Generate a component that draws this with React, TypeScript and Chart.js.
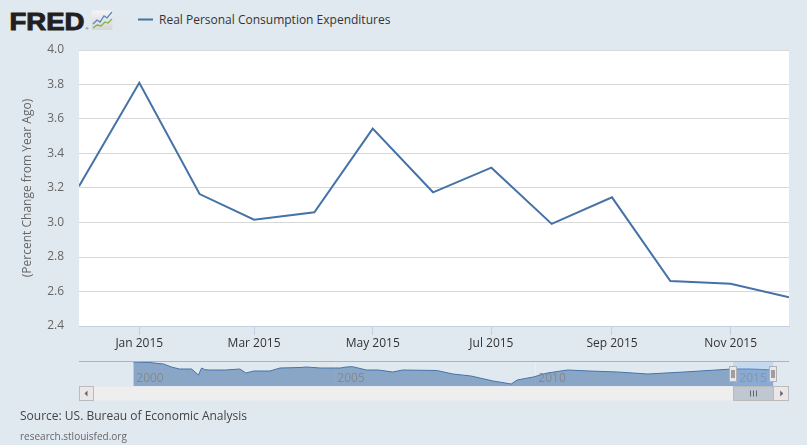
import React, { useEffect, useRef } from "react";
import { Chart, registerables } from "chart.js";

Chart.register(...registerables);

// ---- data ----
const obsDates = [
  "2014-12-01", "2015-01-01", "2015-02-01", "2015-03-01", "2015-04-01", "2015-05-01", "2015-06-01",
  "2015-07-01", "2015-08-01", "2015-09-01", "2015-10-01", "2015-11-01", "2015-12-01",
];
const pceValues = [3.21, 3.81, 3.165, 3.016, 3.059, 3.544, 3.175, 3.318, 2.992, 3.146, 2.661, 2.645, 2.566];
const xTickDates = ["2015-01-01", "2015-03-01", "2015-05-01", "2015-07-01", "2015-09-01", "2015-11-01"];
const xTickLabels = ["Jan 2015", "Mar 2015", "May 2015", "Jul 2015", "Sep 2015", "Nov 2015"];
const yTickValues = [2.4, 2.6, 2.8, 3.0, 3.2, 3.4, 3.6, 3.8, 4.0];

const navYears = [
  2000.0, 2000.4, 2000.75, 2000.95, 2001.15, 2001.45, 2001.62, 2001.7, 2001.78, 2001.9, 2002.3, 2002.65,
  2002.8, 2003.0, 2003.4, 2003.65, 2004.15, 2004.3, 2004.65, 2005.15, 2005.3, 2005.45, 2005.8, 2006.1,
  2006.45, 2006.7, 2007.55, 2007.95, 2008.4, 2008.95, 2009.4, 2009.55, 2009.95, 2010.3, 2010.8, 2011.35,
  2012.05, 2012.8, 2013.7, 2014.5, 2014.9, 2015.35, 2015.92,
];
const navValues = [
  5.2, 5.05, 4.6, 3.7, 3.1, 3.1, 1.3, 3.4, 2.9, 2.8, 2.8, 3.1, 1.9, 2.5, 2.5, 3.4, 3.55, 3.7, 3.4, 3.4, 3.7,
  3.8, 2.8, 2.8, 2.2, 2.8, 2.65, 1.6, 1.0, -0.5, -1.4, -0.2, 0.7, 1.9, 2.8, 2.5, 2.2, 1.6, 2.2, 2.8, 3.1, 3.1,
  2.8,
];
const navYearLabels = [2000, 2005, 2010, 2015];
const navSelStart = 2014.92;
const navSelEnd = 2015.92;

const seriesName = "Real Personal Consumption Expenditures";
const yAxisTitle = "(Percent Change from Year Ago)";
const sourceText = "Source: US. Bureau of Economic Analysis";
const siteText = "research.stlouisfed.org";

const FONT = "'Open Sans', sans-serif";
const LINE = "#4572a7";
const BG = "#e1e9f0";

const plotBg = {
  id: "plotBg",
  beforeDraw(chart: any) {
    const { ctx, chartArea: a } = chart;
    ctx.save();
    ctx.fillStyle = "#ffffff";
    ctx.fillRect(a.left, a.top, a.right - a.left, a.bottom - a.top);
    ctx.restore();
  },
};

const navPlugin = {
  id: "navPlugin",
  beforeDatasetsDraw(chart: any) {
    const { ctx, chartArea: a, scales } = chart;
    ctx.save();
    ctx.strokeStyle = "#eeeeee";
    ctx.lineWidth = 1;
    navYearLabels.forEach((yr) => {
      const x = Math.round(scales.x.getPixelForValue(yr)) + 0.5;
      ctx.beginPath();
      ctx.moveTo(x, a.top);
      ctx.lineTo(x, a.bottom);
      ctx.stroke();
    });
    ctx.restore();
  },
  afterDatasetsDraw(chart: any) {
    const { ctx, chartArea: a, scales } = chart;
    const sx = scales.x;
    ctx.save();
    // year labels
    ctx.fillStyle = "#888888";
    ctx.font = `12px ${FONT}`;
    ctx.textBaseline = "alphabetic";
    ctx.textAlign = "left";
    navYearLabels.forEach((yr) => {
      const x = sx.getPixelForValue(yr);
      ctx.fillText(String(yr), x + 3, a.bottom - 4.5);
    });
    // top outline
    ctx.strokeStyle = "#b2b1b6";
    ctx.lineWidth = 1;
    ctx.beginPath();
    ctx.moveTo(a.left, a.top + 0.5);
    ctx.lineTo(a.right, a.top + 0.5);
    ctx.stroke();
    // mask
    const x1 = sx.getPixelForValue(navSelStart);
    const x2 = sx.getPixelForValue(navSelEnd);
    ctx.fillStyle = "rgba(128,179,236,0.3)";
    ctx.fillRect(x1, a.top + 1, x2 - x1, a.bottom - a.top - 1);
    // handles
    [x1, x2].forEach((cx) => {
      const hx = Math.round(cx) - 3.5;
      ctx.fillStyle = "#ebe7e8";
      ctx.strokeStyle = "#b2b1b6";
      ctx.fillRect(hx, a.top + 5.5, 7, 15);
      ctx.strokeRect(hx, a.top + 5.5, 7, 15);
      ctx.strokeStyle = "#555555";
      ctx.beginPath();
      ctx.moveTo(hx + 2.5, a.top + 9);
      ctx.lineTo(hx + 2.5, a.top + 17);
      ctx.moveTo(hx + 4.5, a.top + 9);
      ctx.lineTo(hx + 4.5, a.top + 17);
      ctx.stroke();
    });
    // scrollbar
    const sTop = a.bottom + 0.5;
    const sH = 14;
    ctx.fillStyle = "#eeeeee";
    ctx.fillRect(a.left, sTop, a.right - a.left, sH);
    // left button
    const bw = 14;
    ctx.fillStyle = "#ebe7e8";
    ctx.strokeStyle = "#bbbbbb";
    ctx.fillRect(a.left + 0.5, sTop, bw, sH);
    ctx.strokeRect(a.left + 0.5, sTop, bw, sH);
    // thumb
    ctx.fillStyle = "#bfc8d1";
    ctx.fillRect(Math.round(x1) + 0.5, sTop, Math.round(x2) - Math.round(x1), sH);
    ctx.strokeRect(Math.round(x1) + 0.5, sTop, Math.round(x2) - Math.round(x1), sH);
    const tc = Math.round((x1 + x2) / 2) + 0.5;
    ctx.strokeStyle = "#666666";
    ctx.beginPath();
    [-3, 0, 3].forEach((d) => {
      ctx.moveTo(tc + d, sTop + 4);
      ctx.lineTo(tc + d, sTop + 10);
    });
    ctx.stroke();
    // right button
    const rbx = Math.round(x2) + 0.5;
    ctx.fillStyle = "#ebe7e8";
    ctx.strokeStyle = "#bbbbbb";
    ctx.fillRect(rbx, sTop, a.right - 0.5 - rbx, sH);
    ctx.strokeRect(rbx, sTop, a.right - 0.5 - rbx, sH);
    // arrows
    ctx.fillStyle = "#666666";
    const lcx = a.left + 0.5 + bw / 2;
    const cy = sTop + sH / 2;
    ctx.beginPath();
    ctx.moveTo(lcx - 2, cy);
    ctx.lineTo(lcx + 1, cy - 3);
    ctx.lineTo(lcx + 1, cy + 3);
    ctx.closePath();
    ctx.fill();
    const rcx = (rbx + a.right) / 2;
    ctx.beginPath();
    ctx.moveTo(rcx + 2, cy);
    ctx.lineTo(rcx - 1, cy - 3);
    ctx.lineTo(rcx - 1, cy + 3);
    ctx.closePath();
    ctx.fill();
    ctx.restore();
  },
};

export default function App() {
  const mainRef = useRef<HTMLCanvasElement | null>(null);
  const navRef = useRef<HTMLCanvasElement | null>(null);

  useEffect(() => {
    const xMin = Date.parse(obsDates[0]);
    const xMax = Date.parse(obsDates[obsDates.length - 1]);
    const main = new Chart(mainRef.current as HTMLCanvasElement, {
      type: "line",
      data: {
        datasets: [
          {
            label: seriesName,
            data: obsDates.map((d, i) => ({ x: Date.parse(d), y: pceValues[i] })),
            borderColor: LINE,
            borderWidth: 2,
            pointRadius: 0,
            fill: false,
            tension: 0,
          },
        ],
      },
      options: {
        responsive: false,
        animation: false,
        events: [],
        layout: { padding: { top: 50, right: 18, left: 0, bottom: 0 } },
        plugins: { legend: { display: false }, tooltip: { enabled: false } },
        scales: {
          x: {
            type: "linear",
            min: xMin,
            max: xMax,
            afterBuildTicks: (s: any) => {
              s.ticks = xTickDates.map((d) => ({ value: Date.parse(d) }));
            },
            ticks: {
              autoSkip: false,
              maxRotation: 0,
              padding: 1,
              color: "#333333",
              font: { family: FONT, size: 12 },
              callback: (_v: any, i: number) => xTickLabels[i],
            },
            grid: { drawOnChartArea: false, drawTicks: true, tickLength: 9, color: "#c0d0e0" },
            border: { display: true, color: "#c0d0e0", width: 1 },
            afterFit: (s: any) => {
              s.height = 29;
            },
          },
          y: {
            min: 2.4,
            max: 4.0,
            afterBuildTicks: (s: any) => {
              s.ticks = yTickValues.map((v) => ({ value: v }));
            },
            ticks: {
              padding: 15,
              color: "#666666",
              font: { family: FONT, size: 12 },
              callback: (v: any) => Number(v).toFixed(1),
            },
            grid: { color: "#d8d8d8", drawTicks: false },
            border: { display: false },
            title: {
              display: true,
              text: yAxisTitle,
              color: "#666666",
              font: { family: FONT, size: 12 },
              padding: { top: 20, bottom: 0 },
            },
            afterFit: (s: any) => {
              s.width = 79;
            },
          },
        },
      } as any,
      plugins: [plotBg],
    });

    const nav = new Chart(navRef.current as HTMLCanvasElement, {
      type: "line",
      data: {
        datasets: [
          {
            data: navYears.map((x, i) => ({ x, y: navValues[i] })),
            borderColor: LINE,
            borderWidth: 1,
            backgroundColor: "rgba(69,114,167,0.56)",
            fill: "start",
            pointRadius: 0,
            tension: 0,
          },
        ],
      },
      options: {
        responsive: false,
        animation: false,
        events: [],
        layout: { padding: { left: 79, right: 18, top: 6, bottom: 16 } },
        plugins: { legend: { display: false }, tooltip: { enabled: false } },
        scales: {
          x: { type: "linear", display: false, min: 1998.65, max: 2016.31 },
          y: { display: false, min: -2, max: 5.5 },
        },
      } as any,
      plugins: [navPlugin],
    });

    return () => {
      main.destroy();
      nav.destroy();
    };
  }, []);

  return (
    <div
      style={{
        position: "absolute",
        left: 0,
        top: 0,
        width: 807,
        height: 445,
        background: BG,
        overflow: "hidden",
      }}
    >
      <svg width={807} height={40} style={{ position: "absolute", left: 0, top: 0 }}>
        <defs>
          <linearGradient id="icg" x1="0" y1="0" x2="0" y2="1">
            <stop offset="0" stopColor="#f4f4f4" />
            <stop offset="1" stopColor="#d6d6d6" />
          </linearGradient>
        </defs>
        <text
          x={9.5}
          y={29.5}
          fontFamily="'Liberation Sans', Arial, sans-serif"
          fontWeight="bold"
          fontSize={23}
          textLength={75}
          lengthAdjust="spacingAndGlyphs"
          fill="#231f20"
          stroke="#231f20"
          strokeWidth={0.9}
        >
          FRED
        </text>
        <text x={85.5} y={30} fontSize={4} fill="#231f20" fontFamily="'Liberation Sans', sans-serif">®</text>
        <rect x={91.5} y={10.5} width={21} height={19.5} rx={1.5} fill="url(#icg)" />
        <polyline points="93,24 97,20 100,22 104,16 107,18 112,12" fill="none" stroke="#5b86c0" strokeWidth={1.3} />
        <polyline points="93,28 97,25 101,26 105,22 108,23 112,19" fill="none" stroke="#7fb24a" strokeWidth={1.3} />
        <line x1={138} y1={19.5} x2={153} y2={19.5} stroke={LINE} strokeWidth={2} />
        <text x={159} y={23.5} fontFamily={FONT} fontSize={12} fill="#333333">
          {seriesName}
        </text>
      </svg>
      <canvas
        ref={mainRef}
        width={807}
        height={355}
        style={{ position: "absolute", left: 0, top: 0, width: 807, height: 355 }}
      />
      <canvas
        ref={navRef}
        width={807}
        height={47}
        style={{ position: "absolute", left: 0, top: 355, width: 807, height: 47 }}
      />
      <svg width={807} height={45} style={{ position: "absolute", left: 0, top: 400 }}>
        <text x={20} y={20} fontFamily={FONT} fontSize={12} fill="#444444">
          {sourceText}
        </text>
        <text x={20} y={40} fontFamily={FONT} fontSize={10} fill="#666666">
          {siteText}
        </text>
      </svg>
    </div>
  );
}
